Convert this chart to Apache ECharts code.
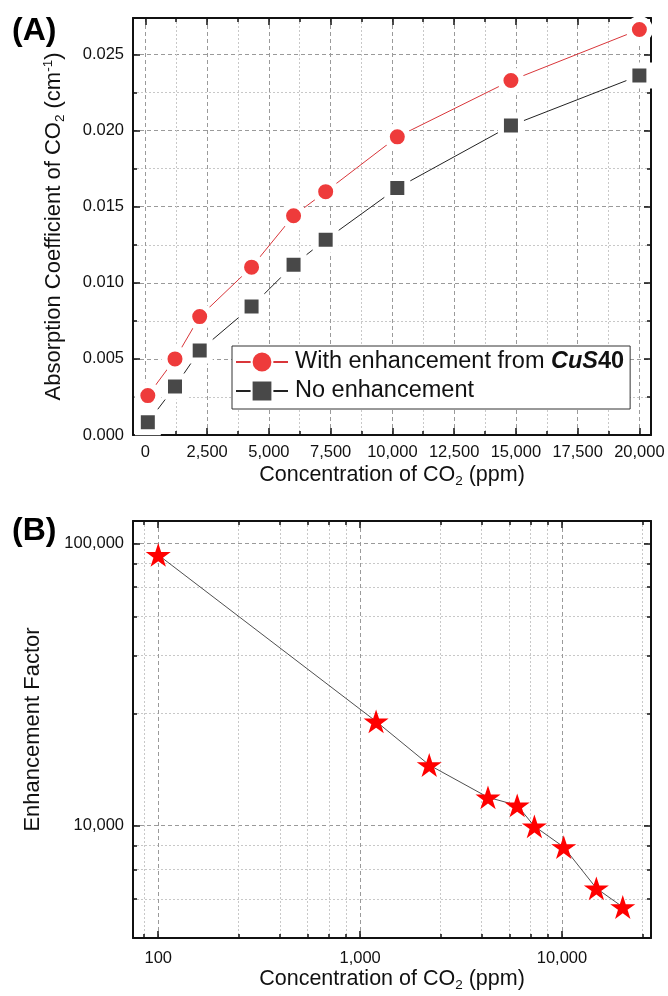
<!DOCTYPE html>
<html><head><meta charset="utf-8">
<script src="https://cdn.jsdelivr.net/npm/echarts@6/dist/echarts.min.js"></script>
<style>html,body{margin:0;padding:0;background:#fff}#c{width:668px;height:996px}</style>
</head><body><div id="c"></div>
<script>
// ---- Data (A) ----
const concA = [100, 1200, 2200, 4300, 6000, 7300, 10200, 14800, 20000];
const withEnh = [0.00259, 0.00500, 0.00778, 0.01103, 0.01441, 0.01599, 0.01959, 0.02329, 0.02664];
const noEnh = [0.00083, 0.00318, 0.00555, 0.00844, 0.01118, 0.01283, 0.01623, 0.02033, 0.02362];
const xTicksA = [0, 2500, 5000, 7500, 10000, 12500, 15000, 17500, 20000];
const xMinorA = [1250, 3750, 6250, 8750, 11250, 13750, 16250, 18750];
const yTicksA = [0, 0.005, 0.010, 0.015, 0.020, 0.025];
const yMinorA = [0.0025, 0.0075, 0.0125, 0.0175, 0.0225];
// ---- Data (B) ----
const concB = [100, 1200, 2200, 4300, 6000, 7300, 10200, 14800, 20000];
const enhFactor = [91000, 23400, 16400, 12600, 11800, 9950, 8400, 6000, 5150];

const FONT = '"Liberation Sans", Arial, sans-serif';
const BLACK = '#111';
const nameA1 = 'With enhancement from CuS40';
const nameA2 = 'No enhancement';
const comma = v => String(v).replace(/\B(?=(\d{3})+(?!\d))/g, ',');
const isPow10 = v => { const l = Math.log10(v); return Math.abs(l - Math.round(l)) < 1e-6; };

const majorSplit = {show: true, lineStyle: {color: '#9a9a9a', width: 1, type: [4, 3]}};
const minorSplit = {show: true, lineStyle: {color: '#c8c8c8', width: 1, type: [2, 2]}};
function richFor(fs) {
  return {
    n: {fontSize: fs, fontFamily: FONT, color: BLACK, lineHeight: 26},
    sub: {fontSize: 13.5, fontFamily: FONT, color: BLACK, lineHeight: 14, verticalAlign: 'bottom'},
    sup: {fontSize: 13.5, fontFamily: FONT, color: BLACK, lineHeight: 15, verticalAlign: 'top'}
  };
}
const noLine = {show: false, onZero: false};
function base(o) {
  return Object.assign({
    type: 'value', axisLine: noLine, axisTick: {show: false},
    axisLabel: {show: false}, splitLine: {show: false}, silent: true
  }, o);
}
function tick(vals, len) {
  return {show: true, inside: true, length: len, customValues: vals, lineStyle: {color: BLACK, width: 1.5}};
}
const axisLine = {show: true, onZero: false, lineStyle: {color: BLACK, width: 2}};

const xRangeA = {min: -500, max: 20470};
const yRangeA = {min: 0, max: 0.0274};

const logTick = {show: true, inside: true, length: 7, lineStyle: {color: BLACK, width: 1.5}};
const logMinor = {show: true, splitNumber: 6, length: 4, lineStyle: {color: BLACK, width: 1.5}};

const xAxes = [
  base(Object.assign({gridIndex: 0, position: 'bottom', axisLine: axisLine,
    axisTick: tick(xTicksA, 7), splitLine: majorSplit,
    axisLabel: {show: true, customValues: xTicksA, formatter: v => comma(v), fontSize: 16.5, fontFamily: FONT, color: BLACK, margin: 9},
    name: '{n|Concentration of CO}{sub|2}{n| (ppm)}', nameLocation: 'middle', nameGap: 27,
    nameTextStyle: {rich: richFor(21.5)}}, xRangeA)),
  base(Object.assign({gridIndex: 0, position: 'bottom', axisTick: tick(xMinorA, 4), splitLine: minorSplit}, xRangeA)),
  base(Object.assign({gridIndex: 0, position: 'top', axisLine: axisLine, axisTick: tick(xTicksA, 7)}, xRangeA)),
  base(Object.assign({gridIndex: 0, position: 'top', axisTick: tick(xMinorA, 4)}, xRangeA)),
  // (B) log axes
  {type: 'log', logBase: 10, gridIndex: 1, position: 'bottom', min: 75, max: 27600, silent: true,
    axisLine: axisLine, axisTick: logTick, minorTick: logMinor,
    splitLine: majorSplit, minorSplitLine: minorSplit,
    axisLabel: {show: true, showMinLabel: false, showMaxLabel: false, formatter: v => isPow10(v) ? comma(Math.round(v)) : '', fontSize: 16.5, fontFamily: FONT, color: BLACK, margin: 12},
    name: '{n|Concentration of CO}{sub|2}{n| (ppm)}', nameLocation: 'middle', nameGap: 25,
    nameTextStyle: {rich: richFor(21.5)}},
  {type: 'log', logBase: 10, gridIndex: 1, position: 'top', min: 75, max: 27600, silent: true,
    axisLine: axisLine, axisTick: logTick, minorTick: logMinor,
    splitLine: {show: false}, axisLabel: {show: false}}
];

const yAxes = [
  base(Object.assign({gridIndex: 0, position: 'left', axisLine: axisLine,
    axisTick: tick(yTicksA, 7), splitLine: majorSplit,
    axisLabel: {show: true, customValues: yTicksA, formatter: v => v.toFixed(3), fontSize: 16.5, fontFamily: FONT, color: BLACK, margin: 9},
    name: '{n|Absorption Coefficient of CO}{sub|2}{n| (cm}{sup|-1}{n|)}', nameLocation: 'middle', nameGap: 66,
    nameTextStyle: {rich: richFor(22)}}, yRangeA)),
  base(Object.assign({gridIndex: 0, position: 'left', axisTick: tick(yMinorA, 4), splitLine: minorSplit}, yRangeA)),
  base(Object.assign({gridIndex: 0, position: 'right', axisLine: axisLine, axisTick: tick(yTicksA, 7)}, yRangeA)),
  base(Object.assign({gridIndex: 0, position: 'right', axisTick: tick(yMinorA, 4)}, yRangeA)),
  {type: 'log', logBase: 10, gridIndex: 1, position: 'left', min: 4000, max: 120000, silent: true,
    axisLine: axisLine, axisTick: logTick, minorTick: logMinor,
    splitLine: majorSplit, minorSplitLine: minorSplit,
    axisLabel: {show: true, showMinLabel: false, showMaxLabel: false, formatter: v => isPow10(v) ? comma(Math.round(v)) : '', fontSize: 16.5, fontFamily: FONT, color: BLACK, margin: 9},
    name: 'Enhancement Factor', nameLocation: 'middle', nameGap: 89,
    nameTextStyle: {fontSize: 22, fontFamily: FONT, color: BLACK}},
  {type: 'log', logBase: 10, gridIndex: 1, position: 'right', min: 4000, max: 120000, silent: true,
    axisLine: axisLine, axisTick: logTick, minorTick: logMinor,
    splitLine: {show: false}, axisLabel: {show: false}}
];

const STAR = 'path://M50,2 L61.2,36.6 L97.6,36.6 L68.2,58 L79.4,92.6 L50,71.2 L20.6,92.6 L31.8,58 L2.4,36.6 L38.8,36.6 Z';

const option = {
  animation: false,
  backgroundColor: '#fff',
  title: [
    {text: '(A)', left: 7, top: 10, padding: 5, textStyle: {fontSize: 32, fontWeight: 'bold', fontFamily: FONT, color: '#000'}},
    {text: '(B)', left: 7, top: 510, padding: 5, textStyle: {fontSize: 32, fontWeight: 'bold', fontFamily: FONT, color: '#000'}}
  ],
  grid: [
    {left: 133, top: 18, width: 518, height: 417, containLabel: false, outerBoundsMode: 'none'},
    {left: 133, top: 521, width: 518, height: 417, containLabel: false, outerBoundsMode: 'none'}
  ],
  legend: {
    data: [nameA1, nameA2], orient: 'vertical', left: 232, top: 346,
    itemWidth: 52, itemHeight: 26, itemGap: 5, padding: [4, 6, 6, 3],
    backgroundColor: '#fff', borderColor: '#333', borderWidth: 1, borderRadius: 0,
    selectedMode: false,
    formatter: n => n === nameA1 ? 'With enhancement from {bi|CuS}{b|40}' : n,
    textStyle: {fontSize: 23.5, fontFamily: FONT, color: BLACK, padding: [0, 0, 0, 2],
      rich: {bi: {fontSize: 23.5, fontFamily: FONT, fontWeight: 'bold', fontStyle: 'italic', color: BLACK},
             b: {fontSize: 23.5, fontFamily: FONT, fontWeight: 'bold', color: BLACK}}}
  },
  xAxis: xAxes,
  yAxis: yAxes,
  series: [
    {name: nameA1, type: 'line', xAxisIndex: 0, yAxisIndex: 0,
      data: concA.map((x, i) => [x, withEnh[i]]),
      symbol: 'circle', symbolSize: 21, z: 4,
      itemStyle: {color: '#EE3B3B', borderColor: '#fff', borderWidth: 6},
      lineStyle: {color: '#D9363A', width: 1}, emphasis: {disabled: true}},
    {name: nameA2, type: 'line', xAxisIndex: 0, yAxisIndex: 0,
      data: concA.map((x, i) => [x, noEnh[i]]),
      symbol: 'rect', symbolSize: 20, z: 3,
      itemStyle: {color: '#484848', borderColor: '#fff', borderWidth: 6},
      lineStyle: {color: '#222', width: 1}, emphasis: {disabled: true}},
    {name: 'Enhancement Factor', type: 'line', xAxisIndex: 4, yAxisIndex: 4,
      data: concB.map((x, i) => [x, enhFactor[i]]),
      symbol: STAR, symbolSize: 25, symbolKeepAspect: true,
      itemStyle: {color: '#FF0000', borderWidth: 0},
      lineStyle: {color: '#222', width: 0.8}, emphasis: {disabled: true}}
  ]
};
const chart = echarts.init(document.getElementById('c'), null, {renderer: 'canvas'});
chart.setOption(option);
</script>
</body></html>
